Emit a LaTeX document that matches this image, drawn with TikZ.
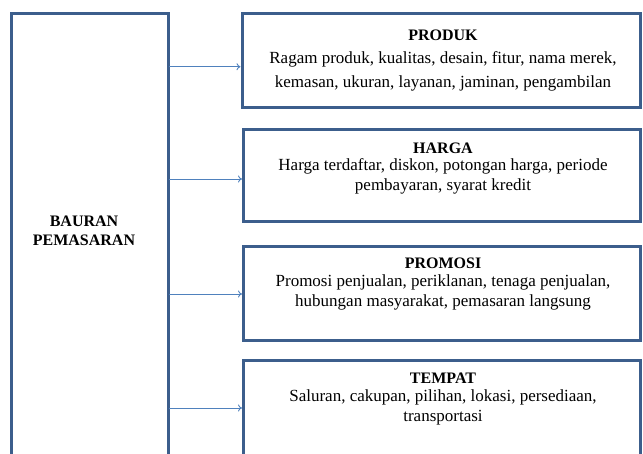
\documentclass[tikz,border=0pt]{standalone}
\usepackage{fontspec}
\setmainfont{Liberation Serif}
\usetikzlibrary{arrows.meta}
\definecolor{boxblue}{RGB}{60,94,140}
\definecolor{arrblue}{RGB}{79,129,189}
\begin{document}
\begin{tikzpicture}[x=1pt,y=-1pt,
  panel/.style={draw=boxblue, line width=3pt, fill=white, rectangle, inner sep=0pt, outer sep=0pt},
  conn/.style={draw=arrblue, line width=0.9pt, -{To[length=4pt,width=7pt]}, shorten >=1.5pt},
  ttl/.style={font=\fontsize{16}{19}\selectfont\bfseries, inner sep=0pt, align=center},
  body/.style={font=\fontsize{17}{20}\selectfont, align=center, inner sep=0pt, anchor=north}]
\clip (0,0) rectangle (643,453);
\fill[white] (0,0) rectangle (643,453);
% boxes
\node[panel, minimum width=157.6pt, minimum height=486.3pt] (mix) at (90,256.85) {};
\node[panel, minimum width=398pt, minimum height=93.8pt] (prod) at (441,60.6) {};
\node[panel, minimum width=396.5pt, minimum height=92pt] (harga) at (441.75,175.5) {};
\node[panel, minimum width=396.5pt, minimum height=94pt] (promo) at (441.75,293) {};
\node[panel, minimum width=396.5pt, minimum height=140pt] (tempat) at (441.75,430) {};
% arrow levels
\coordinate (l1) at (0,66.7);
\coordinate (l2) at (0,179);
\coordinate (l3) at (0,294);
\coordinate (l4) at (0,408);
\draw[conn] (mix.east |- l1) -- (prod.west |- l1);
\draw[conn] (mix.east |- l2) -- (harga.west |- l2);
\draw[conn] (mix.east |- l3) -- (promo.west |- l3);
\draw[conn] (mix.east |- l4) -- (tempat.west |- l4);
% texts
\node[ttl] (tmix) at (84,230.5) {BAURAN\\PEMASARAN};
\node[ttl] (tprod) at (443,35) {PRODUK};
\node[body, font=\fontsize{17}{24.5}\selectfont] (bprod) at (443,51) {Ragam produk, kualitas, desain, fitur, nama merek,\\kemasan, ukuran, layanan, jaminan, pengambilan};
\node[ttl] (tharga) at (443,148) {HARGA};
\node[body] (bharga) at (443,158) {Harga terdaftar, diskon, potongan harga, periode\\pembayaran, syarat kredit};
\node[ttl] (tpromo) at (443,263) {PROMOSI};
\node[body] (bpromo) at (443,274) {Promosi penjualan, periklanan, tenaga penjualan,\\hubungan masyarakat, pemasaran langsung};
\node[ttl] (ttempat) at (443,378) {TEMPAT};
\node[body] (btempat) at (443,389) {Saluran, cakupan, pilihan, lokasi, persediaan,\\transportasi};
\end{tikzpicture}
\end{document}
